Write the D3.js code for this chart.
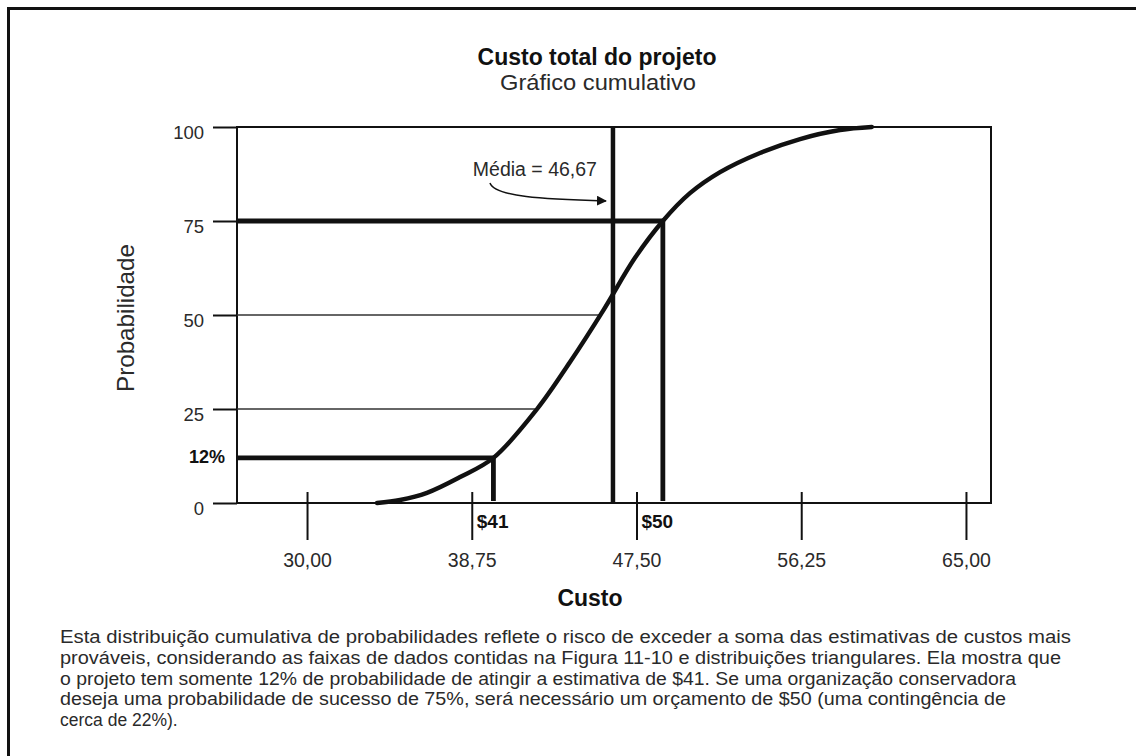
<!DOCTYPE html>
<html><head><meta charset="utf-8">
<script src="https://cdn.jsdelivr.net/npm/d3@7"></script>
<style>
html,body{margin:0;padding:0;background:#fff;}
svg{display:block;font-family:"Liberation Sans",Arial,sans-serif;}
</style></head>
<body>
<svg id="c" width="1136" height="756"></svg>
<script>
// ---- data ----
const titleText = "Custo total do projeto";
const subtitleText = "Gráfico cumulativo";
const xTickValues = [30, 38.75, 47.5, 56.25, 65];
const xTickLabels = ["30,00", "38,75", "47,50", "56,25", "65,00"];
const yTickValues = [0, 25, 50, 75, 100];
const yTickLabels = ["0", "25", "50", "75", "100"];
// cumulative curve (cost, probability %)
const curveCost = [33.72, 34.94, 36.37, 38.13, 39.9, 42.22, 43.97, 45.72, 47.42, 48.9, 50.34, 51.94, 54.06, 56.19, 58.31, 60.0];
const curveProb = [0, 0.8, 2.7, 6.9, 12, 25, 37.5, 51.1, 65.2, 75, 82.4, 88.0, 93.1, 96.8, 99.2, 100];
// thin reference lines (prob level, cost where they meet the curve)
const gridLevels = [25, 50];
const gridEnds = [42.22, 45.65];
// highlighted targets (prob %, cost position, label)
const targetProb = [12, 75];
const targetCost = [39.9, 48.9];
const targetLabels = ["$41", "$50"];
const targetProbLabel = "12%";
const meanCost = 46.25;
const meanLabel = "Média = 46,67";
const xDomain = [26.28, 66.33];
const captionLines = [
 "Esta distribuição cumulativa de probabilidades reflete o risco de exceder a soma das estimativas de custos mais",
 "prováveis, considerando as faixas de dados contidas na Figura 11-10 e distribuições triangulares. Ela mostra que",
 "o projeto tem somente 12% de probabilidade de atingir a estimativa de $41. Se uma organização conservadora",
 "deseja uma probabilidade de sucesso de 75%, será necessário um orçamento de $50 (uma contingência de",
 "cerca de 22%)."
];

// ---- layout ----
const svg = d3.select("#c");
const L = 237, R = 991, T = 127, B = 503;
const x = d3.scaleLinear().domain(xDomain).range([L, R]);
const y = d3.scaleLinear().domain([0, 100]).range([B, T]);
const ink = "#111", txt = "#2a2a2a";
const FF = "'Liberation Sans',Arial,sans-serif";
const captionWidths = [1011, 1001, 956, 946, null];

// page border (top + left)
svg.append("path").attr("d", `M8.5,756 L8.5,8.5 L1136,8.5`)
  .attr("fill","none").attr("stroke",ink).attr("stroke-width",3);

// titles
svg.append("text").attr("x",597).attr("y",65).attr("text-anchor","middle")
  .attr("font-weight","bold").attr("font-size",23).attr("fill",ink).text(titleText);
svg.append("text").attr("x",598).attr("y",90).attr("text-anchor","middle")
  .attr("font-size",22).attr("fill",txt).attr("textLength",196).attr("lengthAdjust","spacingAndGlyphs")
  .text(subtitleText);

// frame
svg.append("rect").attr("x",L).attr("y",T).attr("width",R-L).attr("height",B-T)
  .attr("fill","none").attr("stroke",ink).attr("stroke-width",2);

// y axis
const yAxis = d3.axisLeft(y).tickValues(yTickValues)
  .tickFormat((d,i)=>yTickLabels[i]).tickSize(24).tickPadding(9);
const gy = svg.append("g").attr("transform",`translate(${L},0)`).call(yAxis);
gy.select(".domain").remove();
gy.selectAll(".tick line").attr("stroke",ink).attr("stroke-width",2);
gy.selectAll(".tick text").attr("font-size",18.5).attr("fill",txt)
  .attr("font-family",FF).attr("dy","0.6em");

// x axis (ticks crossing the bottom frame)
const xAxis = d3.axisBottom(x).tickValues(xTickValues)
  .tickFormat((d,i)=>xTickLabels[i]).tickSize(48).tickPadding(13);
const gx = svg.append("g").attr("transform",`translate(0,${B-11})`).call(xAxis);
gx.select(".domain").remove();
gx.selectAll(".tick line").attr("stroke",ink).attr("stroke-width",2);
gx.selectAll(".tick text").attr("font-size",19.5).attr("fill",txt).attr("font-family",FF);

// axis titles
svg.append("text").attr("x",590).attr("y",606).attr("text-anchor","middle")
  .attr("font-weight","bold").attr("font-size",23).attr("fill",ink).text("Custo");
svg.append("text").attr("transform",`translate(134,${(T+B)/2+3}) rotate(-90)`)
  .attr("text-anchor","middle").attr("font-size",24).attr("fill",txt)
  .attr("textLength",148).attr("lengthAdjust","spacingAndGlyphs").text("Probabilidade");

// thin gridlines to the curve
svg.append("g").selectAll("line").data(gridLevels).join("line")
  .attr("x1",L).attr("x2",(d,i)=>x(gridEnds[i]))
  .attr("y1",d=>y(d)).attr("y2",d=>y(d))
  .attr("stroke","#333").attr("stroke-width",1.4);

// target lines
targetProb.forEach((p,i)=>{
  const c = targetCost[i];
  svg.append("path")
    .attr("d", d3.line()([[x(xDomain[0]), y(p)], [x(c), y(p)], [x(c), y(0)-2]]))
    .attr("fill","none").attr("stroke",ink).attr("stroke-width",4.8)
    .attr("stroke-linejoin","miter");
});
// mean line
svg.append("line").attr("x1",x(meanCost)).attr("x2",x(meanCost))
  .attr("y1",y(100)).attr("y2",y(0)).attr("stroke",ink).attr("stroke-width",4.5);

// curve
const pts = curveCost.map((c,i)=>[c, curveProb[i]]);
svg.append("path").datum(pts)
  .attr("d", d3.line().x(d=>x(d[0])).y(d=>y(d[1])).curve(d3.curveCatmullRom.alpha(0.5)))
  .attr("fill","none").attr("stroke",ink).attr("stroke-width",4.4).attr("stroke-linecap","round");

// labels for targets
svg.append("text").attr("x",x(xDomain[0])-12).attr("y",y(targetProb[0])+5)
  .attr("text-anchor","end").attr("font-weight","bold").attr("font-size",18).attr("fill",ink).text(targetProbLabel);
targetLabels.forEach((lab,i)=>{
  svg.append("text").attr("x",x(xTickValues[i+1])+5).attr("y",528)
    .attr("font-weight","bold").attr("font-size",19).attr("fill",ink).text(lab);
});

// mean annotation
svg.append("text").attr("x",x(meanCost)-16).attr("y",176).attr("text-anchor","end")
  .attr("font-size",19.5).attr("fill",txt).text(meanLabel);
svg.append("defs").append("marker").attr("id","ah").attr("viewBox","0 0 10 10")
  .attr("refX",9).attr("refY",5).attr("markerWidth",10).attr("markerHeight",10)
  .attr("markerUnits","userSpaceOnUse").attr("orient","auto")
  .append("path").attr("d","M0,0 L10,5 L0,10 Z").attr("fill",ink);
const ax0 = x(meanCost);
svg.append("path").attr("d",`M${ax0-123},183 C${ax0-118},197 ${ax0-70},199 ${ax0-7},201`)
  .attr("fill","none").attr("stroke",ink).attr("stroke-width",1.5).attr("marker-end","url(#ah)");

// caption
const cap = svg.append("g").selectAll("text").data(captionLines).join("text")
  .attr("x",60).attr("y",(d,i)=>643+i*20.8)
  .attr("font-size",17.5).attr("fill",txt)
  .text(d=>d);
cap.filter((d,i)=>captionWidths[i]!=null)
  .attr("textLength",(d,i,n)=>captionWidths[captionLines.indexOf(d)])
  .attr("lengthAdjust","spacingAndGlyphs");
</script>
</body></html>
